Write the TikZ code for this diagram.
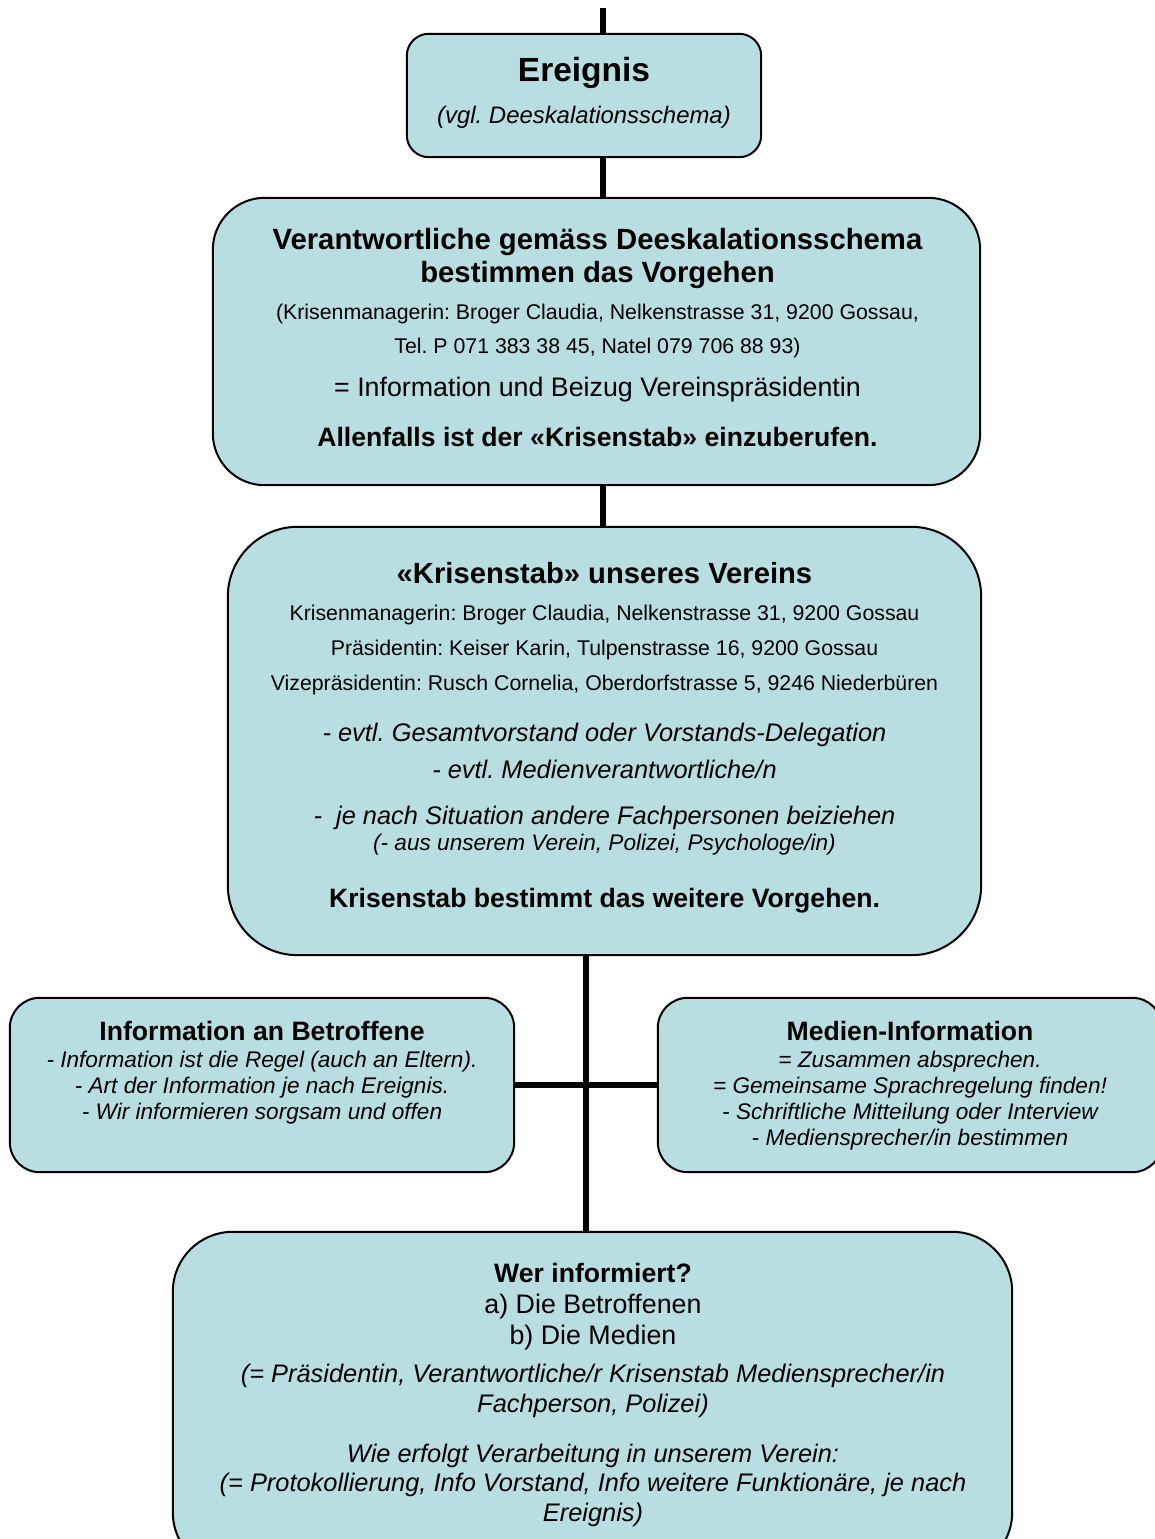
\documentclass[tikz,border=0pt]{standalone}
\usepackage{fontspec}
\setmainfont{Liberation Sans}
\definecolor{boxfill}{RGB}{184,222,225}
\newcommand\myfs[1]{\fontsize{#1}{#1}\selectfont}
\frenchspacing
\tikzset{
  box/.style={draw=black, line width=2pt, fill=boxfill, inner sep=0pt},
  conn/.style={draw=black, line width=5.5pt},
  tx/.style={anchor=base, inner sep=0pt},
}
\begin{document}
\frenchspacing
\begin{tikzpicture}[x=1pt,y=-1pt]
\useasboundingbox (0,0) rectangle (1155,1539);
% connector anchor coordinates
\coordinate (top) at (603,8);
\coordinate (mid) at (586,1085);
% boxes (geometry only)
\node[minimum width=354, minimum height=123, inner sep=0pt] (ereignis) at (584,95.5) {};
\node[minimum width=767, minimum height=287, inner sep=0pt] (verant) at (596.5,341.5) {};
\node[minimum width=753, minimum height=428, inner sep=0pt] (krisen) at (604.5,741) {};
\node[minimum width=504, minimum height=174, inner sep=0pt] (links) at (262,1085) {};
\node[minimum width=504, minimum height=174, inner sep=0pt] (medien) at (910,1085) {};
\node[minimum width=839, minimum height=340, inner sep=0pt] (wer) at (592.5,1402) {};
% connectors
\draw[conn] (top) -- (top |- ereignis.north);
\draw[conn] (top |- ereignis.south) -- (top |- verant.north);
\draw[conn] (top |- verant.south) -- (top |- krisen.north);
\draw[conn] (mid |- krisen.south) -- (mid |- wer.north);
\draw[conn] (links.east) -- (medien.west);
% box outlines
\path[box, rounded corners=22] (ereignis.north west) rectangle (ereignis.south east);
\path[box, rounded corners=52] (verant.north west) rectangle (verant.south east);
\path[box, rounded corners=70] (krisen.north west) rectangle (krisen.south east);
\path[box, rounded corners=30] (links.north west) rectangle (links.south east);
\path[box, rounded corners=30] (medien.north west) rectangle (medien.south east);
\path[box, rounded corners=60] (wer.north west) rectangle (wer.south east);
% Ereignis
\node[tx, font=\myfs{33.5}\bfseries] (e1) at (584,81) {Ereignis};
\node[tx, font=\myfs{23.9}\itshape] (e2) at (584,123.6) {(vgl. Deeskalationsschema)};
% Verantwortliche
\node[tx, font=\myfs{29.3}\bfseries] (v1) at (597.5,249) {Verantwortliche gemäss Deeskalationsschema};
\node[tx, font=\myfs{29.3}\bfseries] (v2) at (597.5,282) {bestimmen das Vorgehen};
\node[tx, font=\myfs{21.3}] (v3) at (597.5,319) {(Krisenmanagerin: Broger Claudia, Nelkenstrasse 31, 9200 Gossau,};
\node[tx, font=\myfs{21.3}] (v4) at (597.5,353) {Tel. P 071 383 38 45, Natel 079 706 88 93)};
\node[tx, font=\myfs{26.8}] (v5) at (597.5,396.6) {= Information und Beizug Vereinspräsidentin};
\node[tx, font=\myfs{26.6}\bfseries] (v6) at (597.5,446.6) {Allenfalls ist der «Krisenstab» einzuberufen.};
% Krisenstab
\node[tx, font=\myfs{29.2}\bfseries] (k1) at (604.5,583.5) {«Krisenstab» unseres Vereins};
\node[tx, font=\myfs{21.3}] (k2) at (604.5,620) {Krisenmanagerin: Broger Claudia, Nelkenstrasse 31, 9200 Gossau};
\node[tx, font=\myfs{21.3}] (k3) at (604.5,655) {Präsidentin: Keiser Karin, Tulpenstrasse 16, 9200 Gossau};
\node[tx, font=\myfs{21.3}] (k4) at (604.5,690) {Vizepräsidentin: Rusch Cornelia, Oberdorfstrasse 5, 9246 Niederbüren};
\node[tx, font=\myfs{25.4}\itshape] (k5) at (604.5,741) {- evtl. Gesamtvorstand oder Vorstands-Delegation};
\node[tx, font=\myfs{25.4}\itshape] (k6) at (604.5,778) {- evtl. Medienverantwortliche/n};
\node[tx, font=\myfs{25.4}\itshape] (k7) at (604.5,824) {-\ \ je nach Situation andere Fachpersonen beiziehen};
\node[tx, font=\myfs{22.6}\itshape] (k8) at (604.5,850) {(- aus unserem Verein, Polizei, Psychologe/in)};
\node[tx, font=\myfs{26.6}\bfseries] (k9) at (604.5,907.6) {Krisenstab bestimmt das weitere Vorgehen.};
% Information an Betroffene
\node[tx, font=\myfs{26.6}\bfseries] (l1) at (262,1040.6) {Information an Betroffene};
\node[tx, font=\myfs{22.6}\itshape] (l2) at (262,1067) {- Information ist die Regel (auch an Eltern).};
\node[tx, font=\myfs{22.6}\itshape] (l3) at (262,1093) {- Art der Information je nach Ereignis.};
\node[tx, font=\myfs{22.6}\itshape] (l4) at (262,1119) {- Wir informieren sorgsam und offen};
% Medien-Information
\node[tx, font=\myfs{26.6}\bfseries] (m1) at (910,1040.6) {Medien-Information};
\node[tx, font=\myfs{22.6}\itshape] (m2) at (910,1067) {= Zusammen absprechen.};
\node[tx, font=\myfs{22.6}\itshape] (m3) at (910,1093) {= Gemeinsame Sprachregelung finden!};
\node[tx, font=\myfs{22.6}\itshape] (m4) at (910,1119) {- Schriftliche Mitteilung oder Interview};
\node[tx, font=\myfs{22.6}\itshape] (m5) at (910,1145) {- Mediensprecher/in bestimmen};
% Wer informiert
\node[tx, font=\myfs{26.6}\bfseries] (w1) at (593,1282.6) {Wer informiert?};
\node[tx, font=\myfs{26.8}] (w2) at (593,1313.6) {a) Die Betroffenen};
\node[tx, font=\myfs{26.8}] (w3) at (593,1344.6) {b) Die Medien};
\node[tx, font=\myfs{25.4}\itshape] (w4) at (593,1382) {(= Präsidentin, Verantwortliche/r Krisenstab Mediensprecher/in};
\node[tx, font=\myfs{25.4}\itshape] (w5) at (593,1412) {Fachperson, Polizei)};
\node[tx, font=\myfs{25.4}\itshape] (w6) at (593,1462) {Wie erfolgt Verarbeitung in unserem Verein:};
\node[tx, font=\myfs{25.4}\itshape] (w7) at (593,1491) {(= Protokollierung, Info Vorstand, Info weitere Funktionäre, je nach};
\node[tx, font=\myfs{25.4}\itshape] (w8) at (593,1521) {Ereignis)};
\end{tikzpicture}
\end{document}
